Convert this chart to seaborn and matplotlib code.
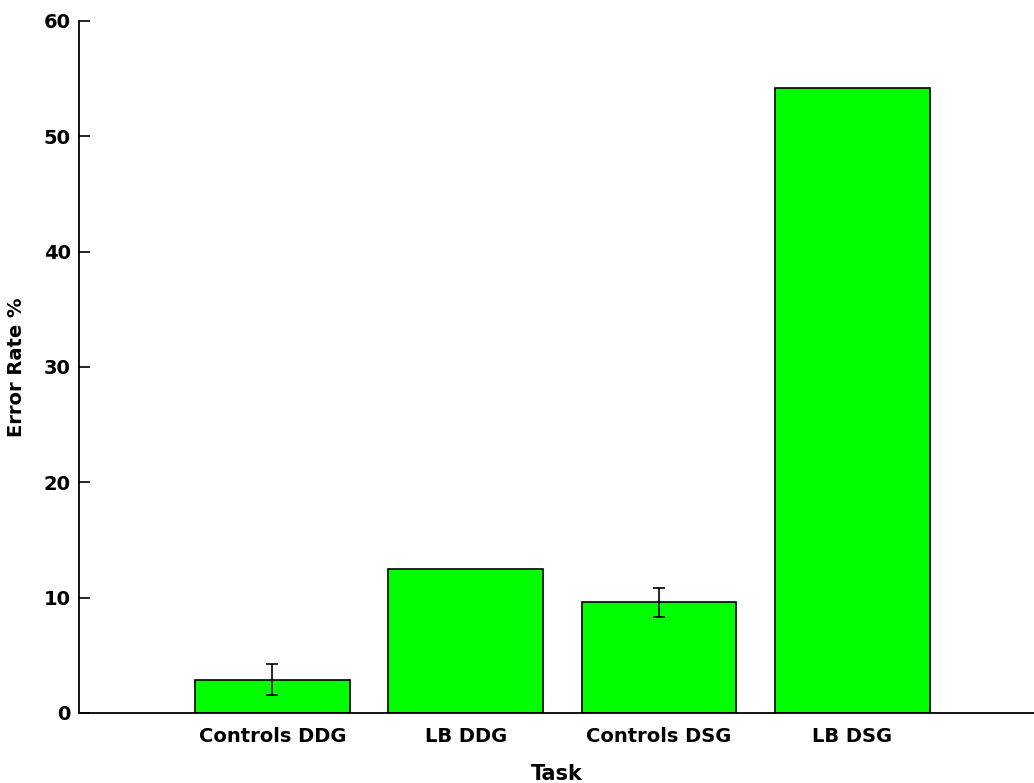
import pandas as pd
import seaborn as sns
import matplotlib.pyplot as plt

# dados
tasks = ["Controls DDG", "LB DDG", "Controls DSG", "LB DSG"]
error_rate = [2.9, 12.5, 9.6, 54.2]
error_sd = [1.33, 0.0, 1.28, 0.0]

df = pd.DataFrame({"Task": tasks, "Error Rate %": error_rate})

sns.set_style("white")
plt.rcParams['font.family'] = ['DejaVu Sans']
plt.rcParams['font.weight'] = 'bold'
plt.rcParams['text.color'] = 'black'
plt.rcParams['axes.labelcolor'] = 'black'
plt.rcParams['xtick.color'] = 'black'
plt.rcParams['ytick.color'] = 'black'

fig = plt.figure(figsize=(10.34, 7.83), dpi=100)
ax = fig.add_axes([0.0764, 0.0894, 0.9236, 0.8838])

sns.barplot(data=df, x="Task", y="Error Rate %", color="#00ff00", width=0.8,
            edgecolor="black", linewidth=1.2, saturation=1, errorbar=None, ax=ax)

# barras de erro só onde existem
for i, (v, e) in enumerate(zip(error_rate, error_sd)):
    if e > 0:
        ax.errorbar(i, v, yerr=e, fmt="none", ecolor="black", elinewidth=1.2,
                    capsize=4, capthick=1.2)

ax.set_xlim(-1.0, 3.94)
ax.set_ylim(0, 60)
ax.set_yticks([0, 10, 20, 30, 40, 50, 60])
ax.tick_params(axis='y', direction='in', length=8, width=1.2, labelsize=14, pad=6, left=True)
ax.tick_params(axis='x', length=0, labelsize=14, pad=10)
for lab in ax.get_xticklabels() + ax.get_yticklabels():
    lab.set_fontweight('bold')

ax.set_xlabel("Task", fontsize=15, fontweight='bold', labelpad=13)
ax.set_ylabel("Error Rate %", fontsize=14, fontweight='bold', labelpad=13)

sns.despine(ax=ax, top=True, right=True)
for s in ["left", "bottom"]:
    ax.spines[s].set_linewidth(1.3)
    ax.spines[s].set_color("black")

fig.savefig("out.png", dpi=100)
